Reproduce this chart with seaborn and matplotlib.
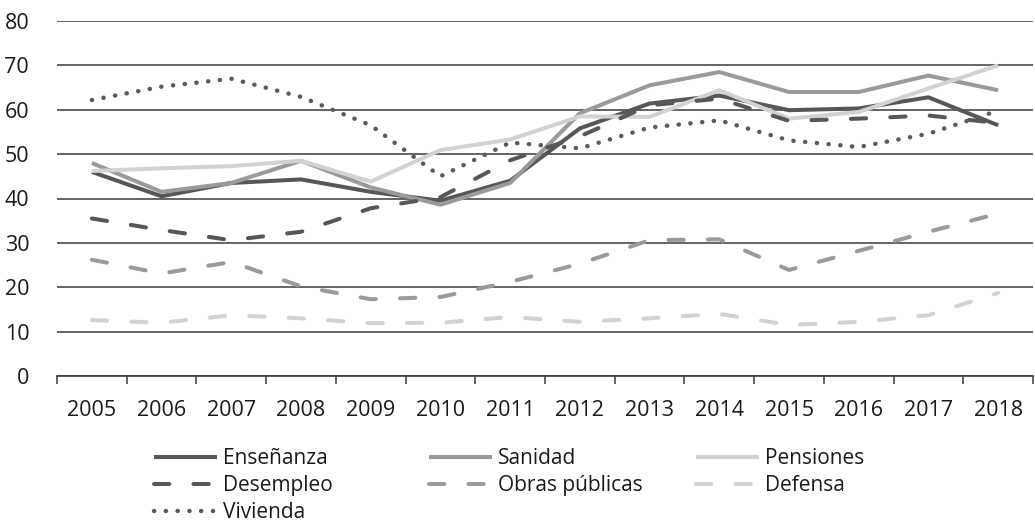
import pandas as pd
import matplotlib.pyplot as plt
import seaborn as sns
from matplotlib.ticker import FixedLocator

# Data
years = list(range(2005, 2019))
ensenanza = [46, 40.5, 43.5, 44.3, 41.5, 39.5, 44, 55.8, 61.4, 63.2, 59.9, 60.3, 62.8, 56.5]
sanidad = [48, 41.5, 43.5, 48.5, 42.5, 38.6, 43.5, 59.2, 65.5, 68.5, 64, 64, 67.7, 64.4]
pensiones = [46.2, 46.8, 47.3, 48.5, 43.8, 50.9, 53.3, 58.5, 58.4, 64.4, 58, 59.5, 64.8, 70]
desempleo = [35.5, 32.9, 30.6, 32.5, 37.8, 40.3, 48.6, 54, 61, 62.5, 57.5, 58, 58.7, 57]
obras = [26.2, 23.1, 25.7, 20.2, 17.3, 17.8, 21.2, 25.3, 30.6, 30.8, 23.9, 28.2, 32.5, 36.6]
defensa = [12.6, 12, 13.7, 13, 11.9, 12, 13.3, 12.2, 13, 14, 11.5, 12.2, 13.7, 18.7]
vivienda = [62.2, 65.2, 67, 62.9, 56.5, 45, 52.6, 51.3, 56, 57.6, 53.1, 51.6, 54.6, 59.8]

sns.set_style("white")
plt.rcParams["font.family"] = ["Open Sans", "DejaVu Sans"]

fig = plt.figure(figsize=(10.35, 5.22), dpi=100)
ax = fig.add_axes([57 / 1035, 1 - 376 / 522, (1033 - 57) / 1035, (376 - 21) / 522])

dark, mid, light = "#575757", "#9a9a9a", "#d2d2d2"
lw = 2.9
dash = (0, (3.8, 6.0))
dot = (0, (0.05, 2.6))
fs = 15.5

series = [
    ("Enseñanza", ensenanza, dark, "-", lw),
    ("Sanidad", sanidad, mid, "-", lw),
    ("Pensiones", pensiones, light, "-", lw),
    ("Desempleo", desempleo, dark, dash, lw),
    ("Obras públicas", obras, mid, dash, lw),
    ("Defensa", defensa, light, dash, lw),
    ("Vivienda", vivienda, "#5a5a5a", dot, 3.2),
]

handles = {}
for name, vals, col, ls, w in series:
    sns.lineplot(x=years, y=vals, color=col, linewidth=w, linestyle=ls,
                 dash_capstyle="round", solid_capstyle="butt", ax=ax)
    handles[name] = ax.lines[-1]

ax.set_xlim(2004.5, 2018.5)
ax.set_ylim(0, 80)
ax.set_yticks(range(0, 81, 10))
ax.set_xticks(years)
ax.set_xticklabels([str(y) for y in years])
ax.xaxis.set_minor_locator(FixedLocator([y - 0.5 for y in years] + [2018.5]))
ax.tick_params(axis="x", which="both", bottom=True)
ax.tick_params(axis="x", which="major", length=0, pad=17, labelsize=fs, colors="#1a1a1a")
ax.tick_params(axis="x", which="minor", length=6, width=1.1, color="#3a3a3a", direction="out")
ax.tick_params(axis="y", length=0, pad=20, labelsize=fs, colors="#1a1a1a")
ax.yaxis.grid(True, color="#3a3a3a", linewidth=1.1)
ax.xaxis.grid(False)
ax.set_axisbelow(True)
for s in ["top", "right", "left"]:
    ax.spines[s].set_visible(False)
ax.spines["bottom"].set_color("#3a3a3a")
ax.spines["bottom"].set_linewidth(1.2)
ax.set_xlabel("")
ax.set_ylabel("")

# legend: three columns placed separately
cols = [
    (["Enseñanza", "Desempleo", "Vivienda"], 154),
    (["Sanidad", "Obras públicas"], 429),
    (["Pensiones", "Defensa"], 696),
]
for names, x0 in cols:
    leg = fig.legend([handles[n] for n in names], names, loc="upper left",
                     bbox_to_anchor=(x0 / 1035, 1 - 448 / 522), frameon=False,
                     fontsize=15, handlelength=3.0, handletextpad=0.3,
                     labelspacing=0.3, borderpad=0, borderaxespad=0)
    for t in leg.get_texts():
        t.set_color("#1a1a1a")

fig.savefig("out.png", dpi=100)
